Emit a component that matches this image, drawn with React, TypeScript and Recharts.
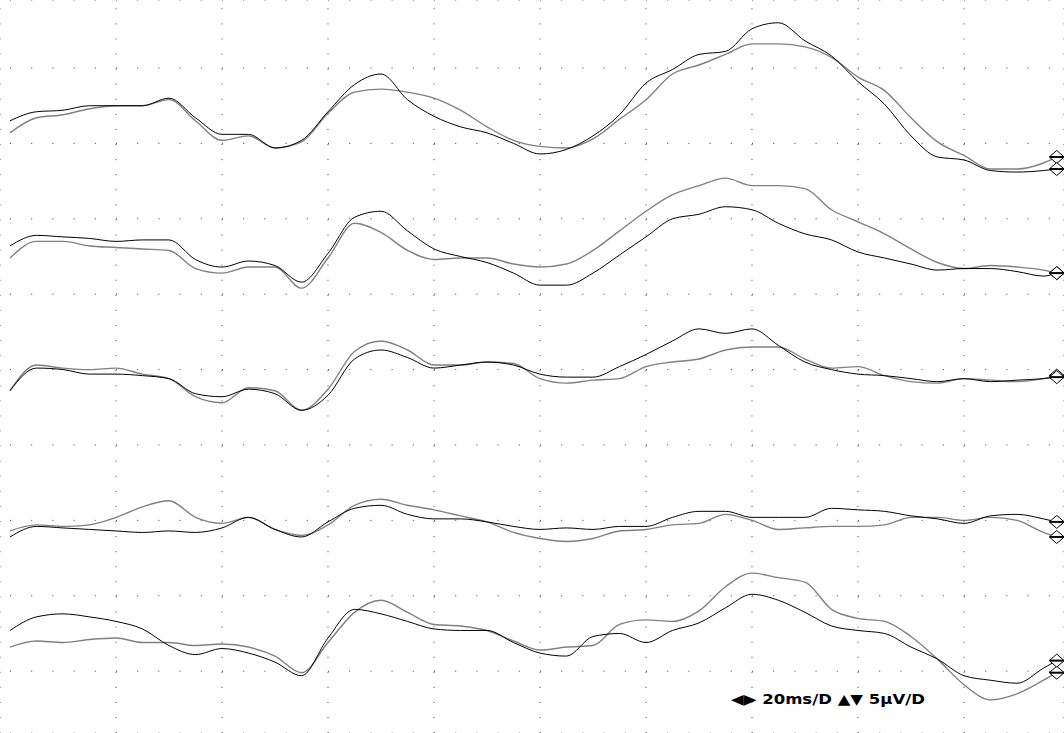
import { CartesianGrid, Line, LineChart, XAxis, YAxis } from 'recharts'

// time base: 20 ms per division, 10 divisions across
const TIME_MS = [
  0, 5, 10, 15, 20, 25, 30, 35, 40, 45, 50, 55, 60, 65, 70, 75, 80, 85, 90, 95,
  100, 105, 110, 115, 120, 125, 130, 135, 140, 145, 150, 155, 160, 165, 170,
  175, 180, 185, 190, 195, 197.5,
]

// baseline of each trace on the common µV scale (5 µV per division)
const TRACE_OFFSETS = [40, 30, 25, 15, 10]

const T1_BLACK = [
  1.5, 2.1, 2.2, 2.5, 2.5, 2.5, 3.0, 1.7, 0.6, 0.6, -0.3, 0.2, 2.1, 3.9, 4.6,
  2.9, 1.8, 1.1, 0.7, 0.0, -0.7, -0.4, 0.5, 1.9, 4.0, 4.9, 5.9, 6.1, 7.6, 8.0,
  6.8, 5.8, 4.1, 2.6, 0.5, -0.9, -1.1, -1.8, -1.9, -1.8, -1.7,
]
const T1_GRAY = [
  0.7, 1.7, 1.9, 2.3, 2.5, 2.5, 2.9, 1.5, 0.2, 0.5, -0.3, 0.1, 2.0, 3.4, 3.6,
  3.4, 3.0, 2.2, 1.1, 0.2, -0.2, -0.3, 0.3, 1.6, 2.9, 4.6, 5.2, 5.9, 6.6, 6.6,
  6.4, 5.7, 4.4, 3.5, 1.7, 0.1, -0.8, -1.7, -1.7, -1.3, -0.9,
]
const T2_BLACK = [
  3.2, 3.9, 3.8, 3.7, 3.5, 3.6, 3.6, 2.3, 1.8, 2.2, 1.9, 0.8, 2.7, 5.1, 5.5,
  4.2, 3.0, 2.5, 2.1, 1.4, 0.6, 0.6, 1.4, 2.6, 3.8, 5.0, 5.3, 5.8, 5.6, 4.7,
  4.0, 3.6, 2.8, 2.4, 2.0, 1.6, 1.7, 1.7, 1.5, 1.2, 1.4,
]
const T2_GRAY = [
  2.4, 3.5, 3.5, 3.2, 3.1, 3.0, 2.9, 1.7, 1.4, 1.8, 1.8, 0.4, 2.4, 4.7, 4.1,
  2.9, 2.3, 2.4, 2.4, 2.0, 1.8, 2.0, 2.9, 4.2, 5.5, 6.6, 7.2, 7.7, 7.2, 7.2,
  7.0, 5.6, 4.8, 4.0, 3.0, 2.1, 1.7, 1.9, 1.8, 1.6, 1.4,
]
const T3_BLACK = [
  -1.4, 0.1, 0.0, -0.3, -0.3, -0.4, -0.6, -1.6, -1.8, -1.3, -1.6, -2.7, -1.7,
  0.7, 1.3, 0.8, 0.1, 0.3, 0.5, 0.3, -0.3, -0.5, -0.5, 0.2, 1.0, 1.9, 2.7, 2.4,
  2.7, 1.6, 0.5, 0.0, -0.3, -0.4, -0.6, -0.8, -0.6, -0.8, -0.7, -0.6, -0.5,
]
const T3_GRAY = [
  -1.4, 0.3, 0.1, 0.0, 0.1, -0.3, -0.6, -1.8, -2.2, -1.2, -1.4, -2.7, -1.3,
  1.2, 1.9, 1.3, 0.3, 0.3, 0.5, 0.4, -0.6, -0.9, -0.7, -0.6, 0.2, 0.5, 0.7,
  1.3, 1.5, 1.5, 0.7, 0.1, 0.2, -0.4, -0.8, -0.9, -0.6, -0.7, -0.8, -0.6, -0.4,
]
const T4_BLACK = [
  -1.1, -0.4, -0.5, -0.6, -0.7, -0.8, -0.7, -0.8, -0.5, 0.2, -0.6, -1.1, -0.1,
  0.8, 1.0, 0.4, 0.1, 0.1, -0.1, -0.4, -0.6, -0.5, -0.6, -0.4, -0.4, 0.2, 0.6,
  0.6, 0.2, 0.2, 0.2, 0.8, 0.7, 0.6, 0.3, 0.1, -0.2, 0.3, 0.4, 0.1, -0.1,
]
const T4_GRAY = [
  -0.7, -0.3, -0.4, -0.3, 0.2, 0.9, 1.3, 0.2, -0.2, 0.2, -0.6, -1.0, -0.3, 1.0,
  1.4, 1.0, 0.7, 0.3, -0.1, -0.8, -1.2, -1.4, -1.2, -0.7, -0.6, -0.3, -0.2,
  0.4, 0.0, -0.6, -0.5, -0.4, -0.4, -0.3, 0.2, 0.2, 0.0, 0.2, 0.0, -0.8, -1.1,
]
const T5_BLACK = [
  -2.3, -1.4, -1.2, -1.4, -1.7, -2.2, -3.3, -3.9, -3.5, -3.8, -4.4, -5.3, -2.8,
  -0.9, -1.2, -1.7, -2.2, -2.3, -2.3, -3.1, -3.8, -4.0, -2.7, -2.5, -3.1, -2.3,
  -1.8, -0.8, 0.1, -0.3, -1.1, -2.0, -2.3, -2.5, -3.4, -4.2, -5.3, -5.6, -5.8,
  -4.8, -4.3,
]
const T5_GRAY = [
  -3.4, -3.0, -3.1, -2.9, -2.8, -3.1, -3.1, -3.3, -3.2, -3.4, -4.0, -5.1, -3.1,
  -1.1, -0.3, -1.1, -1.9, -2.0, -2.3, -3.0, -3.6, -3.4, -3.3, -1.9, -1.6, -1.7,
  -1.0, 0.6, 1.5, 1.2, 0.9, -0.9, -1.5, -1.7, -2.7, -4.2, -5.9, -6.9, -6.5,
  -5.6, -5.1,
]

const X_TICKS = [20, 40, 60, 80, 100, 120, 140, 160, 180]
const Y_TICKS = [5, 10, 15, 20, 25, 30, 35, 40, 45]

const BLACK = '#000000'
const GRAY = '#808080'

const SERIES = [
  { key: 'g1', trace: 0, values: T1_GRAY, color: GRAY },
  { key: 'k1', trace: 0, values: T1_BLACK, color: BLACK },
  { key: 'g2', trace: 1, values: T2_GRAY, color: GRAY },
  { key: 'k2', trace: 1, values: T2_BLACK, color: BLACK },
  { key: 'g3', trace: 2, values: T3_GRAY, color: GRAY },
  { key: 'k3', trace: 2, values: T3_BLACK, color: BLACK },
  { key: 'g4', trace: 3, values: T4_GRAY, color: GRAY },
  { key: 'k4', trace: 3, values: T4_BLACK, color: BLACK },
  { key: 'g5', trace: 4, values: T5_GRAY, color: GRAY },
  { key: 'k5', trace: 4, values: T5_BLACK, color: BLACK },
]

const data = TIME_MS.map((t, i) => {
  const row: Record<string, number> = { t }
  SERIES.forEach((s) => {
    row[s.key] = TRACE_OFFSETS[s.trace] + s.values[i]
  })
  return row
})

const LAST = TIME_MS.length - 1

// diamond cursor drawn at the end of every trace
function EndMarker(props: any) {
  const { cx, cy, index } = props
  if (index !== LAST || cx == null || cy == null) return <g key={`m-${index}`} />
  return (
    <g key={`m-${index}`}>
      <polygon
        points={`${cx},${cy - 6.5} ${cx + 7.5},${cy} ${cx},${cy + 6.5} ${cx - 7.5},${cy}`}
        fill="#ffffff"
        stroke="#000000"
        strokeWidth={1}
      />
      <rect x={cx - 7} y={cy - 1} width={14} height={2} fill="#000000" />
    </g>
  )
}

export default function App() {
  return (
    <div
      style={{
        position: 'absolute',
        left: 0,
        top: 0,
        width: 1064,
        height: 733,
        background: '#ffffff',
      }}
    >
      <LineChart
        width={1064}
        height={733}
        data={data}
        margin={{ top: 0, right: 0, bottom: 0, left: 0 }}
      >
        <CartesianGrid
          horizontal={false}
          stroke="#404040"
          strokeDasharray="0 8.3 1 5.78"
        />
        <CartesianGrid
          vertical={false}
          stroke="#404040"
          strokeDasharray="0 10 1 10.2"
        />
        <XAxis
          dataKey="t"
          type="number"
          domain={[-1.887, 198.87]}
          ticks={X_TICKS}
          allowDataOverflow
          hide
        />
        <YAxis
          type="number"
          domain={[0.9, 49.51]}
          ticks={Y_TICKS}
          allowDataOverflow
          hide
        />
        {SERIES.map((s) => (
          <Line
            key={s.key}
            dataKey={s.key}
            type="monotone"
            stroke={s.color}
            strokeWidth={s.color === GRAY ? 1.4 : 1}
            dot={(p: any) => <EndMarker key={`${s.key}-${p.index}`} {...p} />}
            activeDot={false}
            isAnimationActive={false}
          />
        ))}
      </LineChart>
      <svg
        width={1064}
        height={733}
        style={{ position: 'absolute', left: 0, top: 0, pointerEvents: 'none' }}
      >
        <text
          x={731}
          y={704}
          fontFamily="DejaVu Sans"
          fontSize={14}
          fontWeight="bold"
          fill="#000000"
          textLength={194}
          lengthAdjust="spacingAndGlyphs"
        >
          ◀▶ 20ms/D ▲▼ 5µV/D
        </text>
      </svg>
    </div>
  )
}
